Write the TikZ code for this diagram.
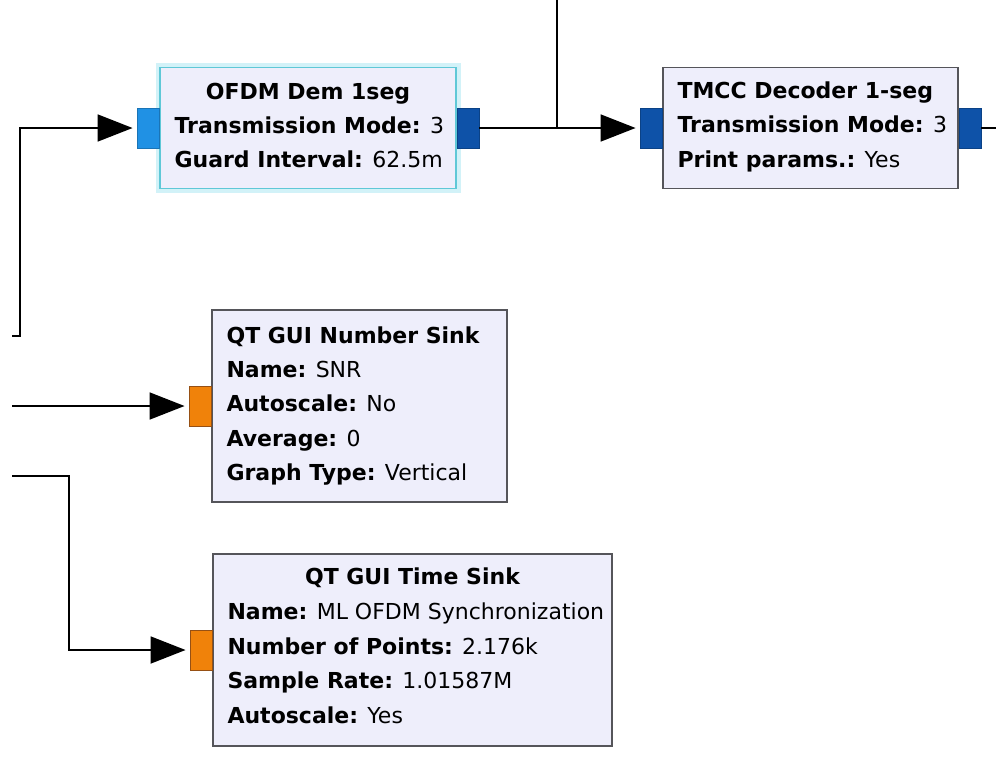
\documentclass[tikz,border=0pt]{standalone}
\usepackage{fontspec}
\setmainfont{DejaVu Sans}
\usetikzlibrary{arrows.meta,calc}
\definecolor{blockfill}{RGB}{238,238,251}
\definecolor{blockedge}{RGB}{85,85,90}
\definecolor{seledge}{RGB}{95,200,215}
\definecolor{selglow}{RGB}{210,242,248}
\definecolor{portlight}{RGB}{32,145,228}
\definecolor{portdark}{RGB}{14,82,168}
\definecolor{portorange}{RGB}{240,130,10}
\definecolor{orangeedge}{RGB}{150,80,20}

\begin{document}
\begin{tikzpicture}[x=1pt,y=-1pt,
  block/.style={draw=blockedge, line width=1.3pt, fill=blockfill, inner sep=0pt},
  selblock/.style={draw=seledge, line width=1.3pt, fill=blockfill, inner sep=0pt,
    preaction={draw=selglow, line width=9pt}},
  port/.style={inner sep=0pt, minimum width=22pt, minimum height=40pt, line width=0.8pt},
  bluein/.style={port, fill=portlight, draw=portlight!80!black},
  blueout/.style={port, fill=portdark, draw=portdark!80!black},
  orangein/.style={port, fill=portorange, draw=orangeedge},
  title/.style={font=\fontsize{22}{26}\selectfont\bfseries, anchor=base, inner sep=0pt},
  param/.style={font=\fontsize{22}{26}\selectfont, anchor=base west, inner sep=0pt},
  wire/.style={line width=1.8pt, black},
  feed/.style={wire, -{Triangle[length=35pt,width=27pt]}, shorten >=4pt}
]
\useasboundingbox (0,0) rectangle (996,756);
\fill[white] (0,0) rectangle (996,756);

% ---- OFDM demodulator (selected) ----
\node[selblock, minimum width=296pt, minimum height=121pt] (ofdm) at (308,128) {};
\node[bluein, anchor=east] (ofdmIn) at (ofdm.west) {};
\node[blueout, anchor=west] (ofdmOut) at (ofdm.east) {};
\node[title] (ofdmT) at ($(ofdm.north)+(0,33)$) {OFDM Dem 1seg};
\node[param] (ofdmP1) at ($(ofdm.north west)+(15,67)$) {\textbf{Transmission Mode:} 3};
\node[param] (ofdmP2) at ($(ofdm.north west)+(15,101)$) {\textbf{Guard Interval:} 62.5m};

% ---- TMCC decoder ----
\node[block, minimum width=295pt, minimum height=121pt] (tmcc) at (810.5,128) {};
\node[blueout, anchor=east] (tmccIn) at (tmcc.west) {};
\node[blueout, anchor=west] (tmccOut) at (tmcc.east) {};
\node[param] (tmccT) at ($(tmcc.north west)+(15,32)$) {\textbf{TMCC Decoder 1-seg}};
\node[param] (tmccP1) at ($(tmcc.north west)+(15,66)$) {\textbf{Transmission Mode:} 3};
\node[param] (tmccP2) at ($(tmcc.north west)+(15,101)$) {\textbf{Print params.:} Yes};

% ---- QT GUI Number Sink ----
\node[block, minimum width=295pt, minimum height=192pt] (num) at (359.5,406) {};
\node[orangein, anchor=east] (numIn) at (num.west) {};
\node[param] (numT) at ($(num.north west)+(15,34)$) {\textbf{QT GUI Number Sink}};
\node[param] (numP1) at ($(num.north west)+(15,68)$) {\textbf{Name:} SNR};
\node[param] (numP2) at ($(num.north west)+(15,102.5)$) {\textbf{Autoscale:} No};
\node[param] (numP3) at ($(num.north west)+(15,137)$) {\textbf{Average:} 0};
\node[param] (numP4) at ($(num.north west)+(15,171.5)$) {\textbf{Graph Type:} Vertical};

% ---- QT GUI Time Sink ----
\node[block, minimum width=399pt, minimum height=192pt] (time) at (412.5,650) {};
\node[orangein, anchor=east] (timeIn) at (time.west) {};
\node[title] (timeT) at ($(time.north)+(0,31)$) {QT GUI Time Sink};
\node[param] (timeP1) at ($(time.north west)+(15,66)$) {\textbf{Name:} ML OFDM Synchronization};
\node[param] (timeP2) at ($(time.north west)+(15,101)$) {\textbf{Number of Points:} 2.176k};
\node[param] (timeP3) at ($(time.north west)+(15,135.5)$) {\textbf{Sample Rate:} 1.01587M};
\node[param] (timeP4) at ($(time.north west)+(15,170)$) {\textbf{Autoscale:} Yes};

% ---- free wire ends ----
\coordinate (srcA) at (12,336);
\coordinate (srcB) at (12,406);
\coordinate (srcC) at (12,476);
\coordinate (tapTop) at (557,0);
\coordinate (outR) at (996,0);

% ---- connections ----
\draw[feed] (srcA) -- (20,336) |- (ofdmIn.west);
\draw[feed] (ofdmOut.east) -- (tmccIn.west);
\draw[wire] (tapTop) -- (tapTop |- ofdmOut.east);
\draw[wire] (tmccOut.east) -- (tmccOut.east -| outR);
\draw[feed] (srcB) -- (numIn.west);
\draw[feed] (srcC) -- (69,476) |- (timeIn.west);
\end{tikzpicture}
\end{document}
